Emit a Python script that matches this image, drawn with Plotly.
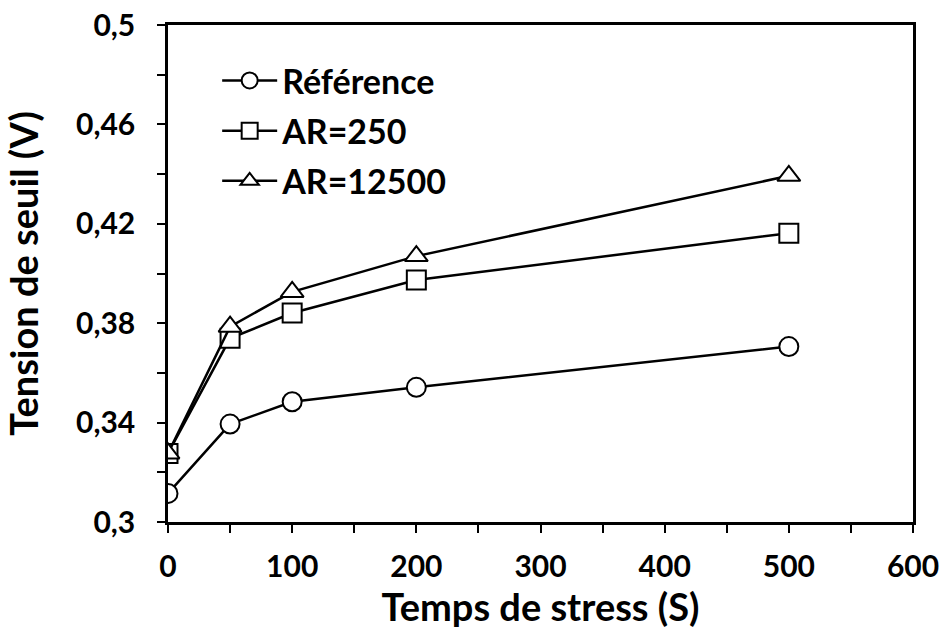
import plotly.graph_objects as go

temps = [0, 50, 100, 200, 500]
reference = [0.3115, 0.3394, 0.3484, 0.3542, 0.3706]
ar250 = [0.3276, 0.3739, 0.3841, 0.3974, 0.4162]
ar12500 = [0.3276, 0.3786, 0.3926, 0.4070, 0.4393]
y_ticks = [0.3, 0.34, 0.38, 0.42, 0.46, 0.5]
x_ticks = [0, 100, 200, 300, 400, 500, 600]

series = [
    ("Référence", reference, "circle"),
    ("AR=250", ar250, "square"),
    ("AR=12500", ar12500, "triangle-up"),
]

FONT = "Lato, 'Open Sans', sans-serif"

fig = go.Figure()
for i, (name, vals, sym) in enumerate(series):
    fig.add_trace(go.Scatter(
        x=temps, y=vals, name=name, mode="lines+markers",
        legendgroup=f"g{i}",
        line=dict(color="black", width=2.5),
        marker=dict(symbol=sym, size=19 if sym != "triangle-up" else 20,
                    color="white", line=dict(color="black", width=2)),
    ))

fig.update_layout(
    width=944, height=631,
    margin=dict(l=168, r=31, t=25, b=109),
    paper_bgcolor="white", plot_bgcolor="white",
    separators=", ",
    font=dict(family=FONT, size=22, color="black"),
    legend=dict(x=0.066, y=0.946, xanchor="left", yanchor="top",
                font=dict(family=FONT, size=34, color="black", weight="bold"),
                bgcolor="rgba(0,0,0,0)", itemwidth=55,
                traceorder="grouped", tracegroupgap=3),
    xaxis=dict(range=[0, 600], tickmode="array", tickvals=x_ticks,
               automargin=False,
               ticks="outside", ticklen=8,
               tickwidth=2, tickcolor="black", showline=True, linecolor="black",
               linewidth=2.5, mirror=True, showgrid=False, zeroline=False,
               tickfont=dict(family=FONT, size=30, weight="bold"),
               ticklabelstandoff=8, ticklabeloverflow="allow",
               minor=dict(tick0=0, dtick=50, ticks="outside", ticklen=8, tickwidth=2,
                          tickcolor="black", showgrid=False),
               title=dict(text="Temps de stress (S)",
                          font=dict(family=FONT, size=38, weight="bold"),
                          standoff=3)),
    yaxis=dict(range=[0.3, 0.5], tickmode="array", tickvals=y_ticks,
               automargin=False,
               ticks="outside", ticklen=8,
               tickwidth=2, tickcolor="black", showline=True, linecolor="black",
               linewidth=2.5, mirror=True, showgrid=False, zeroline=False,
               tickfont=dict(family=FONT, size=30, weight="bold"),
               ticklabelstandoff=16, ticklabeloverflow="allow",
               minor=dict(tick0=0.3, dtick=0.02, ticks="outside", ticklen=8, tickwidth=2,
                          tickcolor="black", showgrid=False),
               title=dict(text="Tension de seuil (V)",
                          font=dict(family=FONT, size=38, weight="bold"),
                          standoff=32)),
)

fig.write_html("out.html", config={"displayModeBar": False},
               post_script="document.body.style.margin='0';document.body.style.overflow='hidden';")
